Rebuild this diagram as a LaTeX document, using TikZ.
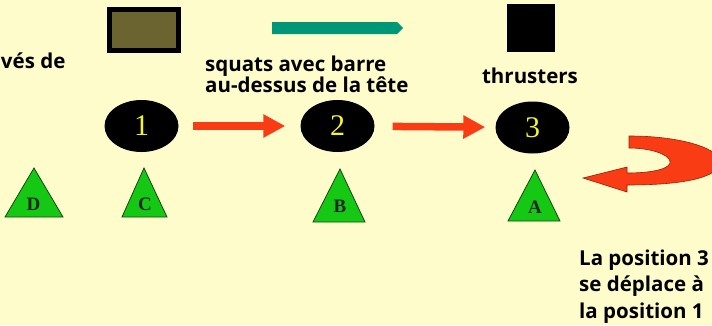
\documentclass[tikz,border=0pt]{standalone}
\usepackage{fontspec}
\setmainfont{Liberation Serif}
\newfontfamily\lblfont{Open Sans}
\usetikzlibrary{arrows.meta,shapes.geometric}
\definecolor{bg}{RGB}{255,252,204}
\definecolor{olivefill}{RGB}{108,100,48}
\definecolor{tealbar}{RGB}{0,150,120}
\definecolor{arrred}{RGB}{250,60,20}
\definecolor{arrline}{RGB}{150,30,10}
\definecolor{trigreen}{RGB}{20,200,20}
\definecolor{triline}{RGB}{20,70,20}
\definecolor{numyellow}{RGB}{245,245,40}
\tikzset{
  lbl/.style={font=\lblfont\bfseries\fontsize{20.5}{21}\selectfont, inner sep=0pt, anchor=base west, text=black},
  ell/.style={ellipse, fill=black, minimum width=74pt, minimum height=52pt, inner sep=0pt,
              text=numyellow, font=\fontsize{30}{30}\selectfont},
  tri/.style={fill=trigreen, draw=triline, line width=0.8pt, line join=miter},
  trilbl/.style={font=\bfseries\fontsize{19}{19}\selectfont, inner sep=0pt, anchor=base, text=black!85},
  redarrow/.style={draw=arrred, line width=7.5pt, -{Triangle[length=22pt,width=22pt]}},
}
\begin{document}
\begin{tikzpicture}[x=1pt,y=-1pt]
\useasboundingbox (0,0) rectangle (712,325);
\clip (0,0) rectangle (712,325);
\fill[bg] (0,0) rectangle (712,325);

% top icons
\node[draw=black, line width=5pt, fill=olivefill, minimum width=69pt, minimum height=41pt, inner sep=0pt] (olive) at (144,30) {};
\fill[tealbar] (272,22) -- (397,22) -- (403,28) -- (397,34) -- (272,34) -- cycle;
\node[fill=black, minimum width=48pt, minimum height=48pt, inner sep=0pt] (sq) at (531,28) {};

% labels
\node[lbl] (t0) at (0.8,68.5) {vés de};
\node[lbl] (t1a) at (205,71.7) {squats avec barre};
\node[lbl] (t1b) at (205,92.7) {au-dessus de la tête};
\node[lbl, anchor=base] (t2) at (530,83) {thrusters};
\node[lbl] (t3a) at (579,265) {La position 3};
\node[lbl] (t3b) at (579,291.5) {se déplace à};
\node[lbl] (t3c) at (579,318) {la position 1};

% positions
\node[ell] (e1) at (141.5,126) {1};
\node[ell] (e2) at (337.5,126) {2};
\node[ell] (e3) at (532.5,127.5) {3};
\draw[redarrow, shorten <=14pt, shorten >=15pt] (e1) -- (e2);
\draw[redarrow, shorten <=18pt, shorten >=10pt] (e2) -- (e3);

% triangles
\draw[tri] (5,217) -- (34,168) -- (63,217) -- cycle;
\draw[tri] (122,217) -- (144,168) -- (167,217) -- cycle;
\draw[tri] (313,222) -- (340,169) -- (365,222) -- cycle;
\draw[tri] (508,221) -- (535,170) -- (560,221) -- cycle;
\node[trilbl] (lD) at (33.5,210) {D};
\node[trilbl] (lC) at (145,210) {C};
\node[trilbl] (lB) at (340,212) {B};
\node[trilbl] (lA) at (535,213) {A};

% U-turn arrow
\filldraw[fill=arrred, draw=arrline, line width=0.6pt, line join=miter]
  (629,136) .. controls (685,136) and (722,150) .. (720,163)
  .. controls (718,176) and (690,185) .. (627,185)
  -- (627,192) -- (583,178) -- (627,167) -- (627,173)
  .. controls (655,173) and (672,168) .. (670,161)
  .. controls (668,154) and (650,148) .. (629,148) -- cycle;
\end{tikzpicture}
\end{document}
